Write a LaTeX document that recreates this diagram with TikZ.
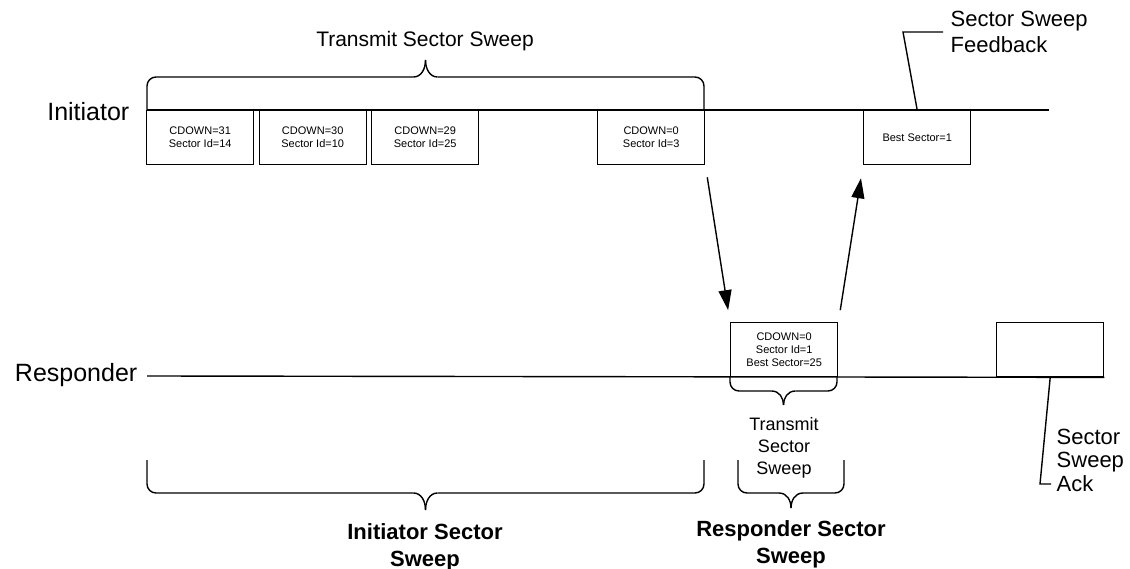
\documentclass[tikz,border=0pt]{standalone}
\usepackage{fontspec}
\setmainfont{Liberation Sans}
\usetikzlibrary{arrows.meta,positioning}

\tikzset{
  frame/.style={draw, minimum width=107pt, minimum height=54pt, inner sep=0pt,
    anchor=north west, align=center, font=\fontsize{11}{13}\selectfont},
  lbl/.style={inner sep=0pt, align=center, font=\fontsize{22}{26}\selectfont},
  sig/.style={-{Triangle[length=20pt,width=13pt]}},
}

% sweep brace: x left, x right, y of the ends, y of the bar, y of the tip
\newcommand{\swbrace}[5]{%
  \pgfmathsetmacro\bmid{(#1+#2)/2}
  \draw[rounded corners=9pt] (#1,#3) |- (\bmid-12,#4);
  \draw[rounded corners=9pt] (#2,#3) |- (\bmid+12,#4);
  \draw (\bmid-12,#4) .. controls (\bmid-4,#4) and ({\bmid},{#4+0.5*(#5-#4)}) .. (\bmid,#5);
  \draw (\bmid+12,#4) .. controls (\bmid+4,#4) and ({\bmid},{#4+0.5*(#5-#4)}) .. (\bmid,#5);
}

\begin{document}
\begin{tikzpicture}[x=1pt, y=-1pt, line width=1.4pt]
    \useasboundingbox (0,0) rectangle (1130,569);
    % Time lines
    \node[anchor=east, inner sep=0pt, font=\fontsize{25}{30}\selectfont] (ini) at (130,112) {Initiator};
    \node[anchor=east, inner sep=0pt, font=\fontsize{25}{30}\selectfont] (rsp) at (138,375) {Responder};
    \coordinate (i0) at (147,110);
    \coordinate (i1) at (1049,110);
    \coordinate (r0) at (147,376);
    \draw (i0) -- (i1);
    % Initiator frames
    \node[frame] (s31) at (146,110) {CDOWN=31\\Sector Id=14};
    \node[frame] (s30) at (258.5,110) {CDOWN=30\\Sector Id=10};
    \node[frame] (s29) at (371,110) {CDOWN=29\\Sector Id=25};
    \node[frame] (s0) at (597,110) {CDOWN=0\\Sector Id=3};
    \node[frame] (fbk) at (863,110) {Best Sector=1};
    % Responder frames
    \node[frame] (rtx) at (730,322) {CDOWN=0\\Sector Id=1\\Best Sector=25};
    \node[frame] (ack) at (996,322) {};
    \draw (r0) -- (ack.south east);
    % Exchange
    \draw[sig, shorten <=12pt, shorten >=12pt] (s0.south east) -- (rtx.north west);
    \draw[sig, shorten <=12pt, shorten >=13pt] (rtx.north east) -- (fbk.south west);
    % Braces
    \swbrace{147}{704}{110}{77}{60}
    \node[lbl, anchor=base, font=\fontsize{21}{25}\selectfont] (itx) at (425,47) {Transmit Sector Sweep};
    \swbrace{730}{837}{376}{391}{405}
    \node[lbl, anchor=north, font=\fontsize{18}{22}\selectfont] (rtl) at (784,417) {Transmit\\Sector\\Sweep};
    \swbrace{147}{704}{460}{493}{510}
    \node[lbl, anchor=north, font=\fontsize{22}{27}\selectfont\bfseries] (iss) at (425,523) {Initiator Sector\\Sweep};
    \swbrace{738}{844}{460}{493}{508}
    \node[lbl, anchor=north, font=\fontsize{22}{27}\selectfont\bfseries] (rss) at (791,520) {Responder Sector\\Sweep};
    % Callouts
    \node[lbl, anchor=north west, align=left] (fbl) at (950,10) {Sector Sweep\\Feedback};
    \coordinate (fb0) at (943,32);
    \draw (fb0) -- (903,32) -- (fbk.north);
    \node[lbl, anchor=north west, align=left, font=\fontsize{22}{23.5}\selectfont] (akl) at (1056,428) {Sector\\Sweep\\Ack};
    \coordinate (ak0) at (1051,484);
    \draw (ack.south) -- (1040,484) -- (ak0);
\end{tikzpicture}
\end{document}
